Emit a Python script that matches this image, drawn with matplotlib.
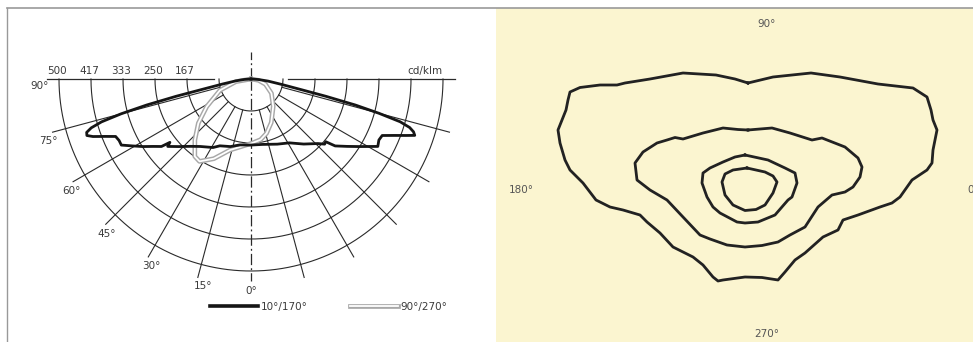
import numpy as np
import matplotlib
matplotlib.use("Agg")
import matplotlib.pyplot as plt
from matplotlib.lines import Line2D
import matplotlib.patheffects as pe

plt.rcParams['font.family'] = ['DejaVu Sans']

# ---------------- data: polar intensity diagram (cd/klm) ----------------
radii = [83.3, 166.7, 250, 333.3, 416.7, 500]
radius_labels = ["500", "417", "333", "250", "167"]
radius_label_values = [500, 416.7, 333.3, 250, 166.7]
angle_labels = ["90°", "75°", "60°", "45°", "30°", "15°", "0°"]
angle_label_values = [90, 75, 60, 45, 30, 15, 0]

# C10/C170 plane (negative angles = 170° side)
theta_c10 = [-90, -86, -83, -80, -78, -77, -76, -75, -74, -73, -72, -71, -70, -68.5,
             -67, -65, -63, -60.5, -58, -55.5, -53, -52, -51, -47, -42, -37, -29, -25,
             -17, -9.5, 0, 10, 22, 31, 39, 46, 48.5, 50, 51.5, 55, 58, 62, 64.5, 66.7,
             68.5, 70, 71, 72, 73, 74, 75, 76, 77, 78, 80, 83, 86, 90]
r_c10 = [0, 18, 40, 75, 130, 200, 280, 350, 405, 435, 450, 452, 438, 408,
         383, 379, 379, 354, 332, 310, 292, 268, 279, 258, 236, 220, 204, 192,
         184, 174, 172, 173, 183, 194, 218, 242, 256, 254, 280, 306, 332, 374, 369, 372,
         401, 430, 451, 445, 432, 404, 345, 280, 200, 135, 80, 45, 20, 0]

# C90/C270 plane (negative angles = 270° side)
theta_c90 = [-90, -80, -70, -58, -50, -42.6, -36, -32, -25, -16.5, -9, 0, 9, 16, 25, 39, 55, 70, 80, 90]
r_c90 = [0, 40, 86, 136, 179, 216, 249, 253, 229, 193, 179, 168, 160, 147, 125, 92, 65, 40, 20, 0]

legend_labels = ["10°/170°", "90°/270°"]

# ---------------- data: isolux diagram (m) ----------------
iso1_x = [0.0, 2.5, 6.3, 9.2, 13.0, 16.5, 17.9, 18.3, 18.5, 18.9, 18.5, 18.4, 17.9, 16.4, 15.2,
          14.4, 13.2, 11.0, 9.5, 9.0, 7.5, 5.7, 4.7, 3.7, 3.0, 1.4, -0.3, -2.5, -3.0, -3.5,
          -4.5, -5.5, -7.5, -8.8, -10.1, -10.8, -12.5, -13.8, -15.2, -16.5, -17.8, -18.3,
          -18.8, -19.0, -18.6, -18.2, -18.0, -17.8, -16.8, -14.8, -13.1, -12.3, -9.8, -6.5,
          -3.2, -1.3]
iso1_y = [10.7, 11.3, 11.7, 11.3, 10.6, 10.2, 9.3, 8.0, 7.0, 6.0, 4.0, 2.7, 2.0, 1.0, -0.7,
          -1.3, -1.7, -2.5, -3.0, -4.0, -4.7, -6.3, -7.0, -8.2, -9.0, -8.75, -8.7, -9.0, -9.1, -8.7,
          -7.5, -6.7, -5.7, -4.3, -3.2, -2.5, -2.0, -1.7, -1.0, 0.7, 2.0, 3.0,
          4.7, 6.0, 7.0, 8.0, 9.0, 9.8, 10.25, 10.5, 10.5, 10.7, 11.1, 11.7,
          11.5, 11.1]
iso2_x = [0.0, 2.4, 4.2, 6.4, 7.4, 9.7, 11.0, 11.4, 11.2, 10.5, 9.7, 8.4, 7.0, 5.7, 4.2, 3.0,
          1.4, -0.3, -2.1, -3.8, -4.8, -6.5, -8.1, -9.8, -11.1, -11.3, -10.5, -9.1, -8.1,
          -7.3, -6.5, -4.5, -2.5, -1.0]
iso2_y = [6.0, 6.2, 5.7, 5.0, 5.2, 4.3, 3.2, 2.3, 1.3, 0.3, -0.2, -0.5, -1.7, -3.7, -4.5, -5.2,
          -5.55, -5.7, -5.5, -4.9, -4.5, -2.7, -1.0, 0.0, 1.0, 2.7, 3.8, 4.7, 5.0,
          5.25, 5.1, 5.7, 6.2, 6.05]
iso3_x = [-0.3, 2.0, 3.7, 4.7, 4.9, 4.4, 4.0, 2.7, 1.0, -0.3, -1.1, -2.8, -3.5, -4.1, -4.6,
          -4.5, -3.8, -2.5, -1.3]
iso3_y = [3.5, 3.0, 2.2, 1.7, 0.7, -0.7, -1.0, -2.5, -3.2, -3.3, -3.2, -2.3, -1.7, -0.7, 0.7,
          1.7, 2.2, 2.8, 3.3]
iso4_x = [-0.1, 1.7, 2.5, 2.9, 2.5, 1.7, 0.8, -0.3, -1.5, -2.3, -2.6, -2.3, -1.5]
iso4_y = [2.2, 1.8, 1.4, 0.8, -0.3, -1.5, -1.95, -2.05, -1.5, -0.5, 0.8, 1.6, 2.0]

iso_labels = ["90°", "180°", "0°", "270°"]

# ---------------- figure ----------------
W, H = 973, 342
fig = plt.figure(figsize=(W / 100, H / 100), dpi=100)
fig.patch.set_facecolor("white")

txt_col = "#3a3a3a"
grid_col = "#2a2a2a"

# ---- left: polar diagram (half-disc centred at cx,cy with radius R pixels)
cx, cy, R = 251, 79, 192
ycen = cy + R / 2.0
axL = fig.add_axes([(cx - 2 * R) / W, (H - (ycen + R)) / H, 4 * R / W, 2 * R / H],
                   projection="polar")
axL.set_theta_zero_location("S")
axL.set_theta_direction(1)
axL.set_thetamin(-90)
axL.set_thetamax(90)
axL.set_rlim(0, 500)
axL.axis("off")

th = np.linspace(-np.pi / 2, np.pi / 2, 300)
for v in radii:
    axL.plot(th, np.full_like(th, v), color=grid_col, lw=0.8, clip_on=False, zorder=1)
for a in [15, 30, 45, 60, 75]:
    for sgn in (-1, 1):
        axL.plot([np.radians(sgn * a)] * 2, [radii[0], 535], color=grid_col, lw=0.8,
                 clip_on=False, zorder=1)
for sgn in (-1, 1):
    axL.plot([np.radians(sgn * 90)] * 2, [97, 530], color=grid_col, lw=0.9, clip_on=False, zorder=1)
dashdot = (0, (9, 2.5, 1.5, 2.5))
axL.plot([0, 0], [0, 526], color=grid_col, lw=0.9, ls=dashdot, clip_on=False, zorder=1)
axL.plot([np.pi, np.pi], [0, 70], color=grid_col, lw=0.9, ls=dashdot, clip_on=False, zorder=1)

grey_fx = [pe.Stroke(linewidth=3.4, foreground="#a8a8a8"), pe.Normal()]
axL.plot(np.radians(theta_c90), r_c90, color="white", lw=1.3, clip_on=False, zorder=3,
         path_effects=grey_fx)
axL.plot(np.radians(theta_c10), r_c10, color="#151515", lw=2.0, clip_on=False, zorder=4,
         solid_joinstyle="round")

for lab, v in zip(radius_labels, radius_label_values):
    axL.annotate(lab, xy=(-np.pi / 2, v), xytext=(-1.5, 6), textcoords="offset points",
                 ha="center", va="center", fontsize=7.5, color=txt_col)
axL.annotate("cd/klm", xy=(np.pi / 2, 500), xytext=(0, 6), textcoords="offset points",
             ha="right", va="center", fontsize=7.5, color=txt_col)
for lab, a in zip(angle_labels, angle_label_values):
    t = -a + 2.0 if a > 0 else 0
    axL.text(np.radians(t), 552, lab, ha="center", va="center", fontsize=7.5, color=txt_col)

h_black = Line2D([], [], color="#151515", lw=2.6)
h_grey = Line2D([], [], color="white", lw=1.3,
                path_effects=[pe.Stroke(linewidth=3.4, foreground="#a8a8a8"), pe.Normal()])
fig.legend([h_black, h_grey], legend_labels, loc="center left",
           bbox_to_anchor=(210 / W, 1 - 307 / H), ncol=2, frameon=False, fontsize=7.5,
           handlelength=4.6, handletextpad=0.3, columnspacing=4.0, borderpad=0,
           borderaxespad=0, labelcolor=txt_col)

# ---- right: isolux diagram
ox, oy, s = 748, 190, 10.0  # origin px, px per metre
x0, x1, ytop = 496, 973, 8
axR = fig.add_axes([x0 / W, 0, (x1 - x0) / W, (H - ytop) / H])
axR.set_xlim((x0 - ox) / s, (x1 - ox) / s)
axR.set_ylim((oy - H) / s, (oy - ytop) / s)
axR.set_facecolor("#fbf5d0")
for sp in axR.spines.values():
    sp.set_visible(False)
axR.set_xticks([])
axR.set_yticks([])
for xs, ys in [(iso1_x, iso1_y), (iso2_x, iso2_y), (iso3_x, iso3_y), (iso4_x, iso4_y)]:
    axR.plot(list(xs) + [xs[0]], list(ys) + [ys[0]], color="#222222", lw=2.0,
             solid_joinstyle="round")
lab_col = "#555555"
axR.text((767 - ox) / s, (oy - 24) / s, iso_labels[0], ha="center", va="center", fontsize=7.5, color=lab_col)
axR.text((521 - ox) / s, 0, iso_labels[1], ha="center", va="center", fontsize=7.5, color=lab_col)
axR.text((967 - ox) / s, 0, iso_labels[2], ha="left", va="center", fontsize=7.5, color=lab_col, clip_on=False)
axR.text((767 - ox) / s, (oy - 334) / s, iso_labels[3], ha="center", va="center", fontsize=7.5, color=lab_col)

# frame lines
fig.add_artist(Line2D([7 / W, 1], [1 - 8 / H, 1 - 8 / H], color="#999999", lw=1.2))
fig.add_artist(Line2D([7 / W, 7 / W], [0, 1 - 8 / H], color="#999999", lw=1.0))

fig.savefig("out.png", dpi=100)
